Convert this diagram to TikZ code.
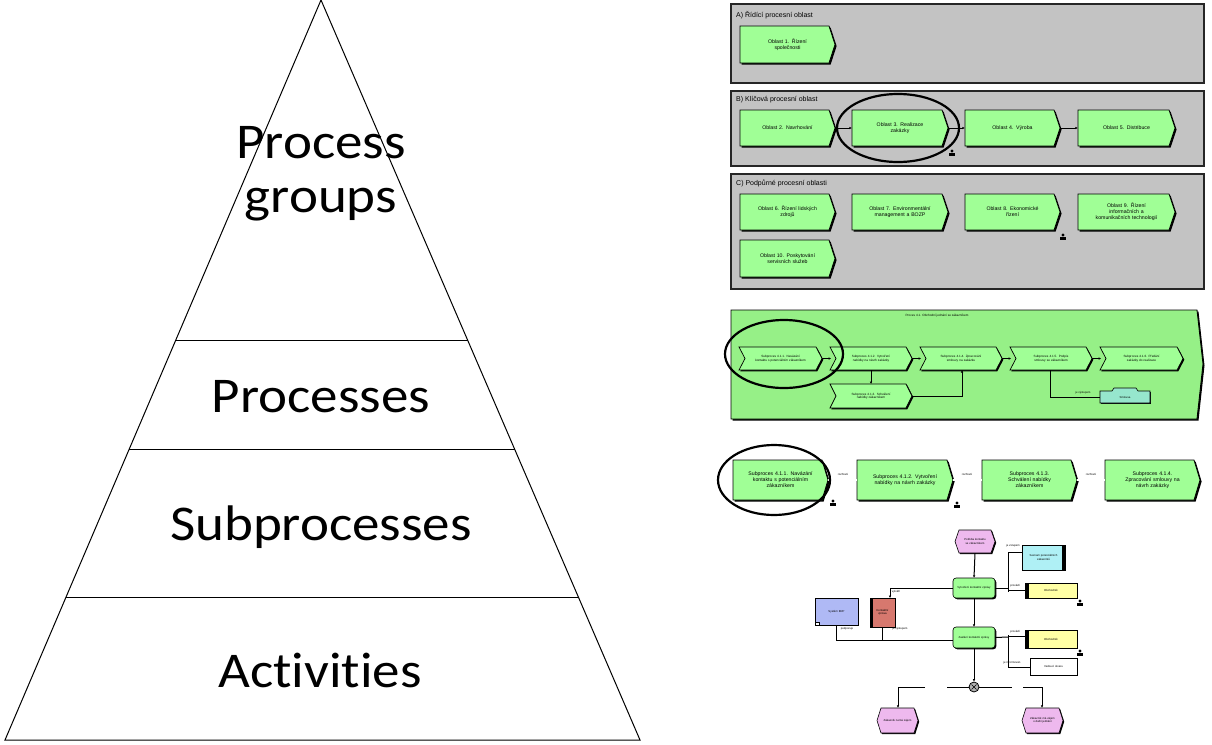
\documentclass[tikz,border=0pt]{standalone}
\usepackage{fontspec}
\setmainfont{Liberation Sans}
\newfontfamily\pyr[FakeStretch=1.1, Ligatures=NoCommon]{Carlito}
\usetikzlibrary{calc,arrows.meta}
\hyphenpenalty=10000
\exhyphenpenalty=10000
\definecolor{pgray}{RGB}{195,195,195}
\definecolor{pgreen}{RGB}{160,255,150}
\definecolor{dgreen}{RGB}{150,240,135}
\definecolor{pteal}{RGB}{150,230,205}
\definecolor{ppink}{RGB}{238,185,238}
\definecolor{pcyan}{RGB}{175,240,245}
\definecolor{pyellow}{RGB}{255,255,165}
\definecolor{pblue}{RGB}{175,185,245}
\definecolor{pred}{RGB}{215,120,110}
\tikzset{
  pyrline/.style={line width=1pt},
  pyrtext/.style={font=\pyr\fontsize{50}{58}\selectfont, inner sep=0pt, anchor=base},
  panel/.style={draw=black!85, line width=1.4pt, fill=pgray},
  ptitle/.style={font=\fontsize{7}{8}\selectfont, anchor=west, inner sep=0pt},
  boxline/.style={draw=black, line width=0.8pt, fill=pgreen},
  boxtext/.style={inner sep=0pt, align=center, font=\fontsize{5.2}{6}\selectfont},
  smalltext/.style={inner sep=0pt, align=center, font=\fontsize{3.1}{3.6}\selectfont},
  tinytext/.style={inner sep=0pt, font=\fontsize{2.8}{3.2}\selectfont},
  conn/.style={line width=1pt, -{Latex[length=2.5pt,width=2.5pt]}},
  plainconn/.style={line width=1pt},
  ring/.style={draw=black, line width=2.2pt},
  usericon/.style={fill=black, inner sep=0pt, minimum width=6pt, minimum height=3.5pt},
}
% pentagon process box: name, x0, y0, x1, y1, text (with explicit breaks)
\newcommand\procbox[6]{%
  \pgfmathsetmacro\pbw{#4-#2}\pgfmathsetmacro\pbh{#5-#3}\pgfmathsetmacro\pbt{#4-#2-8}%
  \fill[black] ({#2+1.6},{#3+1.6}) -- ({#4-6+1.6},{#3+1.6}) -- ({#4+1.6},{(#3+#5)/2+1.6}) -- ({#4-6+1.6},{#5+1.6}) -- ({#2+1.6},{#5+1.6}) -- cycle;
  \draw[boxline] (#2,#3) -- ({#4-6},#3) -- (#4,{(#3+#5)/2}) -- ({#4-6},#5) -- (#2,#5) -- cycle;
  \node[boxtext, minimum width=\pbw pt, minimum height=\pbh pt, text width=\pbt pt] (#1) at ({(#2+#4)/2},{(#3+#5)/2}) {#6};}
% notched chevron box: name, x0, y0, x1, y1, text
\newcommand\chevbox[6]{%
  \pgfmathsetmacro\pbw{#4-#2}\pgfmathsetmacro\pbh{#5-#3}\pgfmathsetmacro\pbt{#4-#2-18}%
  \fill[black] ({#2+1.3},{#3+1.3}) -- ({#4-6+1.3},{#3+1.3}) -- ({#4+1.3},{(#3+#5)/2+1.3}) -- ({#4-6+1.3},{#5+1.3}) -- ({#2+1.3},{#5+1.3}) -- ({#2+6+1.3},{(#3+#5)/2+1.3}) -- cycle;
  \draw[boxline, line width=0.7pt] (#2,#3) -- ({#4-6},#3) -- (#4,{(#3+#5)/2}) -- ({#4-6},#5) -- (#2,#5) -- ({#2+6},{(#3+#5)/2}) -- cycle;
  \node[smalltext, minimum width=\pbw pt, minimum height=\pbh pt, text width=\pbt pt] (#1) at ({(#2+#4)/2},{(#3+#5)/2}) {#6};}
% event hexagon: name, x0, y0, x1, y1, text
\newcommand\eventbox[6]{%
  \pgfmathsetmacro\pbw{#4-#2}\pgfmathsetmacro\pbh{#5-#3}\pgfmathsetmacro\pbt{#4-#2-10}%
  \fill[black] ({#2+4+1.2},{#3+1.2}) -- ({#4-4+1.2},{#3+1.2}) -- ({#4+1.2},{(#3+#5)/2+1.2}) -- ({#4-4+1.2},{#5+1.2}) -- ({#2+4+1.2},{#5+1.2}) -- ({#2+1.2},{(#3+#5)/2+1.2}) -- cycle;
  \draw[fill=ppink, line width=0.6pt] ({#2+4},#3) -- ({#4-4},#3) -- (#4,{(#3+#5)/2}) -- ({#4-4},#5) -- ({#2+4},#5) -- (#2,{(#3+#5)/2}) -- cycle;
  \node[tinytext, align=center, minimum width=\pbw pt, minimum height=\pbh pt, text width=\pbt pt] (#1) at ({(#2+#4)/2},{(#3+#5)/2}) {#6};}
% plain rectangle with shadow: name, x0, y0, x1, y1, colour, text
\newcommand\rectbox[7]{%
  \pgfmathsetmacro\pbw{#4-#2}\pgfmathsetmacro\pbh{#5-#3}\pgfmathsetmacro\pbt{#4-#2-8}%
  \fill[black] ({#2+1.3},{#3+1.3}) rectangle ({#4+1.3},{#5+1.3});
  \draw[fill=#6, line width=0.6pt] (#2,#3) rectangle (#4,#5);
  \node[tinytext, align=center, minimum width=\pbw pt, minimum height=\pbh pt, text width=\pbt pt] (#1) at ({(#2+#4)/2},{(#3+#5)/2}) {#7};}
% person icon: name, x, y
\newcommand\usr[3]{%
  \node[usericon] (#1) at (#2,{#3+1.5}) {};
  \fill[black] (#2,{#3-2}) circle (1.6pt);}

\begin{document}
\begin{tikzpicture}[x=1pt,y=-1pt]
\useasboundingbox (0,0) rectangle (1212,744);

% ================= pyramid =================
\coordinate (apex) at (321,0);
\coordinate (bl) at (5,740);
\coordinate (br) at (640,740);
\draw[pyrline] (apex) -- (bl) -- (br) -- cycle;
\coordinate (l1) at ($(apex)!0.4595!(bl)$); \coordinate (r1) at ($(apex)!0.4595!(br)$);
\coordinate (l2) at ($(apex)!0.6081!(bl)$); \coordinate (r2) at ($(apex)!0.6081!(br)$);
\coordinate (l3) at ($(apex)!0.8068!(bl)$); \coordinate (r3) at ($(apex)!0.8068!(br)$);
\draw[pyrline] (l1) -- (r1);
\draw[pyrline] (l2) -- (r2);
\draw[pyrline] (l3) -- (r3);
\node[pyrtext] (tpg1) at (321,158) {Process};
\node[pyrtext] (tpg2) at (321,212) {groups};
\node[pyrtext] (tproc) at (321,412) {Processes};
\node[pyrtext] (tsub) at (321,540) {Subprocesses};
\node[pyrtext] (tact) at (320,687) {Activities};

% ================= panel A =================
\draw[panel] (731,4) rectangle (1204,83);
\node[ptitle] (tA) at (736,15) {A) Řídící procesní oblast};
\procbox{a1}{740}{26}{835}{63}{Oblast 1. Řízení\\společnosti}

% ================= panel B =================
\draw[panel] (731,91) rectangle (1204,166);
\node[ptitle] (tB) at (736,100) {B) Klíčová procesní oblast};
\procbox{b1}{740}{110}{835}{146}{Oblast 2. Navrhování}
\procbox{b2}{852}{110}{948}{146}{Oblast 3. Realizace\\zakázky}
\procbox{b3}{965}{110}{1060}{146}{Oblast 4. Výroba}
\procbox{b4}{1078}{110}{1175}{146}{Oblast 5. Distribuce}
\draw[conn] (b1.east) -- (b2.west);
\draw[conn] (b2.east) -- (b3.west);
\draw[conn] (b3.east) -- (b4.west);
\draw[ring] (898,128) ellipse [x radius=61, y radius=34];
\usr{uB}{952}{153}

% ================= panel C =================
\draw[panel] (731,174) rectangle (1204,289);
\node[ptitle] (tC) at (736,183) {C) Podpůrné procesní oblasti};
\procbox{c1}{740}{194}{835}{230}{Oblast 6. Řízení lidských\\zdrojů}
\procbox{c2}{852}{194}{948}{230}{Oblast 7. Environmentální\\management a BOZP}
\procbox{c3}{965}{194}{1060}{230}{Oblast 8. Ekonomické\\řízení}
\procbox{c4}{1078}{194}{1175}{230}{Oblast 9. Řízení\\informačních a\\komunikačních technologií}
\procbox{c5}{740}{240}{835}{277}{Oblast 10. Poskytování\\servisních služeb}
\usr{uC}{1063}{237}

% ================= panel D =================
\fill[black] (732.5,311.5) -- (1198.5,311.5) -- (1204.5,365.5) -- (1198.5,420.5) -- (732.5,420.5) -- cycle;
\draw[fill=dgreen, line width=0.9pt] (731,310) -- (1197,310) -- (1203,364) -- (1197,419) -- (731,419) -- cycle;
\node[smalltext] (tD) at (937,316) {Proces 4.1. Obchodní jednání se zákazníkem};
\chevbox{d1}{739}{347}{822}{370}{Subproces 4.1.1. Navázání kontaktu s potenciálním zákazníkem}
\chevbox{d2}{830}{347}{912}{370}{Subproces 4.1.2. Vytvoření nabídky na návrh zakázky}
\chevbox{d3}{920}{347}{1002}{370}{Subproces 4.1.4. Zpracování smlouvy na zakázku}
\chevbox{d4}{1010}{347}{1092}{370}{Subproces 4.1.5. Podpis smlouvy se zákazníkem}
\chevbox{d5}{1100}{347}{1183}{370}{Subproces 4.1.6. Předání zakázky do realizace}
\chevbox{d6}{830}{384}{912}{408}{Subproces 4.1.3. Schválení nabídky zákazníkem}
\draw[conn] (d1.east) -- ++(9,0);
\draw[conn] (d2.east) -- ++(9,0);
\draw[conn] (d3.east) -- ++(9,0);
\draw[conn] (d4.east) -- ++(9,0);
\draw[conn] (871,370) -- (871,384);
\draw[conn] (d6.east) -- (962,396) -- (962,370);
% teal document
\fill[black] (1101.3,392.3) rectangle (1151.3,404.3);
\draw[fill=pteal, line width=0.6pt] (1100,391) -- (1112,391) -- (1114,388) -- (1136,388) -- (1138,391) -- (1150,391) -- (1150,403) -- (1100,403) -- cycle;
\node[tinytext] (dt) at (1125,397) {Smlouva};
\draw[plainconn] (1050,370) -- (1050,397) -- (dt.west -| 1100,397);
\node[tinytext, anchor=south] (dl) at (1083,394) {je výstupem};
\draw[ring] (784,354) ellipse [x radius=59, y radius=34];

% ================= panel E =================
\procbox{e1}{733}{460}{828}{500}{Subproces 4.1.1. Navázání\\kontaktu s potenciálním\\zákazníkem}
\procbox{e2}{857}{460}{953}{500}{Subproces 4.1.2. Vytvoření\\nabídky na návrh zakázky}
\procbox{e3}{982}{460}{1077}{500}{Subproces 4.1.3.\\Schválení nabídky\\zákazníkem}
\procbox{e4}{1105}{460}{1200}{500}{Subproces 4.1.4.\\Zpracování smlouvy na\\návrh zakázky}
\draw[line width=0.5pt, double, double distance=1.6pt] (e1.east) -- (e2.west);
\draw[line width=0.5pt, double, double distance=1.6pt] (e2.east) -- (e3.west);
\draw[line width=0.5pt, double, double distance=1.6pt] (e3.east) -- (e4.west);
\node[tinytext] (el1) at (843,474) {rozhraní};
\node[tinytext] (el2) at (967,474) {rozhraní};
\node[tinytext] (el3) at (1091,474) {rozhraní};
\usr{uE1}{833}{503}
\usr{uE2}{957}{505}
\draw[ring] (774,480) ellipse [x radius=56, y radius=35];

% ================= panel F =================
\eventbox{f0}{955}{530}{995}{553}{Potřeba kontaktu se zákazníkem}
% functions
\fill[black, rounded corners=3pt] (954.3,579.3) rectangle (996.3,599.3);
\draw[fill=pgreen, line width=0.6pt, rounded corners=3pt] (953,578) rectangle (995,598);
\node[tinytext, align=center, text width=34pt, minimum width=42pt, minimum height=20pt] (f1) at (974,588) {Vytvoření kontaktní zprávy};
\fill[black, rounded corners=3pt] (954.3,628.3) rectangle (996.3,649.3);
\draw[fill=pgreen, line width=0.6pt, rounded corners=3pt] (953,627) rectangle (995,648);
\node[tinytext, align=center, text width=34pt, minimum width=42pt, minimum height=21pt] (f2) at (974,637.5) {Zaslání kontaktní zprávy};
% resources
\rectbox{fc}{1022}{545}{1065}{570}{pcyan}{Seznam potenciálních zákazníků}
\fill[black] (1062,545) rectangle (1065,570);
\rectbox{fy1}{1025}{583}{1077}{598}{pyellow}{Obchodník}
\fill[black] (1025,583) rectangle (1029,598);
\rectbox{fb}{815}{598}{858}{625}{pblue}{Systém ERP}
\rectbox{fr}{870}{598}{895}{627}{pred}{Kontaktní zpráva}
\fill[black] (870,598) rectangle (873,627);
\rectbox{fy2}{1025}{630}{1077}{648}{pyellow}{Obchodník}
\fill[black] (1025,630) rectangle (1029,648);
\rectbox{fw}{1030}{658}{1077}{675}{white}{Vedoucí útvaru}
% connectors
\coordinate (fv1) at (1008,588);
\draw[conn] (f0.south) -- (f1.north);
\draw[conn] (f1.south) -- (f2.north);
\draw[plainconn] (f1.east) -- (fv1);
\draw[plainconn] (1008,552) -- (1008,592);
\draw[plainconn] (1008,552) -- (fc.west |- 0,552);
\draw[plainconn] (1008,590) -- (fy1.west |- 0,590);
\draw[conn] (f1.west) -- (890,588) -- (890,598);
\draw[plainconn] (fb.south) -- (836.5,640) -- (f2.west |- 0,640);
\draw[plainconn] (fr.south) -- (882.5,640);
\coordinate (fv2) at (1008,637);
\draw[plainconn] (f2.east) -- (fv2);
\draw[plainconn] (1008,635) -- (1008,667);
\draw[plainconn] (1008,636) -- (fy2.west |- 0,636);
\draw[plainconn] (1008,667) -- (fw.west |- 0,667);
% XOR
\node[draw, fill=black!30, circle, line width=0.8pt, inner sep=0pt, minimum size=10pt] (xor) at (974,687) {};
\draw[line width=0.6pt] ($(xor.center)+(-2.5,-2.5)$) -- ($(xor.center)+(2.5,2.5)$);
\draw[line width=0.6pt] ($(xor.center)+(-2.5,2.5)$) -- ($(xor.center)+(2.5,-2.5)$);
\draw[conn] (f2.south) -- (xor.north);
\eventbox{fe1}{877}{708}{918}{733}{Zákazník nemá zájem}
\eventbox{fe2}{1022}{708}{1063}{733}{Zákazník má zájem o další jednání}
\draw[plainconn] (xor.west) -- (947,687);
\draw[plainconn] (925,687) -- (898,687);
\draw[conn] (898,687) -- (fe1.north -| 898,0);
\draw[plainconn] (xor.east) -- (1012,687);
\draw[plainconn] (1023,687) -- (1042,687);
\draw[conn] (1042,687) -- (fe2.north -| 1042,0);
% tiny line labels
\node[tinytext] (lf1) at (1013,546) {je vstupem};
\node[tinytext] (lf2) at (1015,586) {provádí};
\node[tinytext] (lf3) at (1015,632) {provádí};
\node[tinytext] (lf4) at (1012,663) {je informován};
\node[tinytext] (lf5) at (847,629) {podporuje};
\node[tinytext] (lf6) at (900,629) {je výstupem};
\node[tinytext] (lf7) at (896,592) {vytváří};
% icons
\usr{uF1}{1080}{603}
\usr{uF2}{1080}{653}
\node[draw, fill=white, inner sep=0pt, minimum width=4pt, minimum height=3pt, line width=0.6pt] (uF3) at (817,624) {};
\end{tikzpicture}
\end{document}
